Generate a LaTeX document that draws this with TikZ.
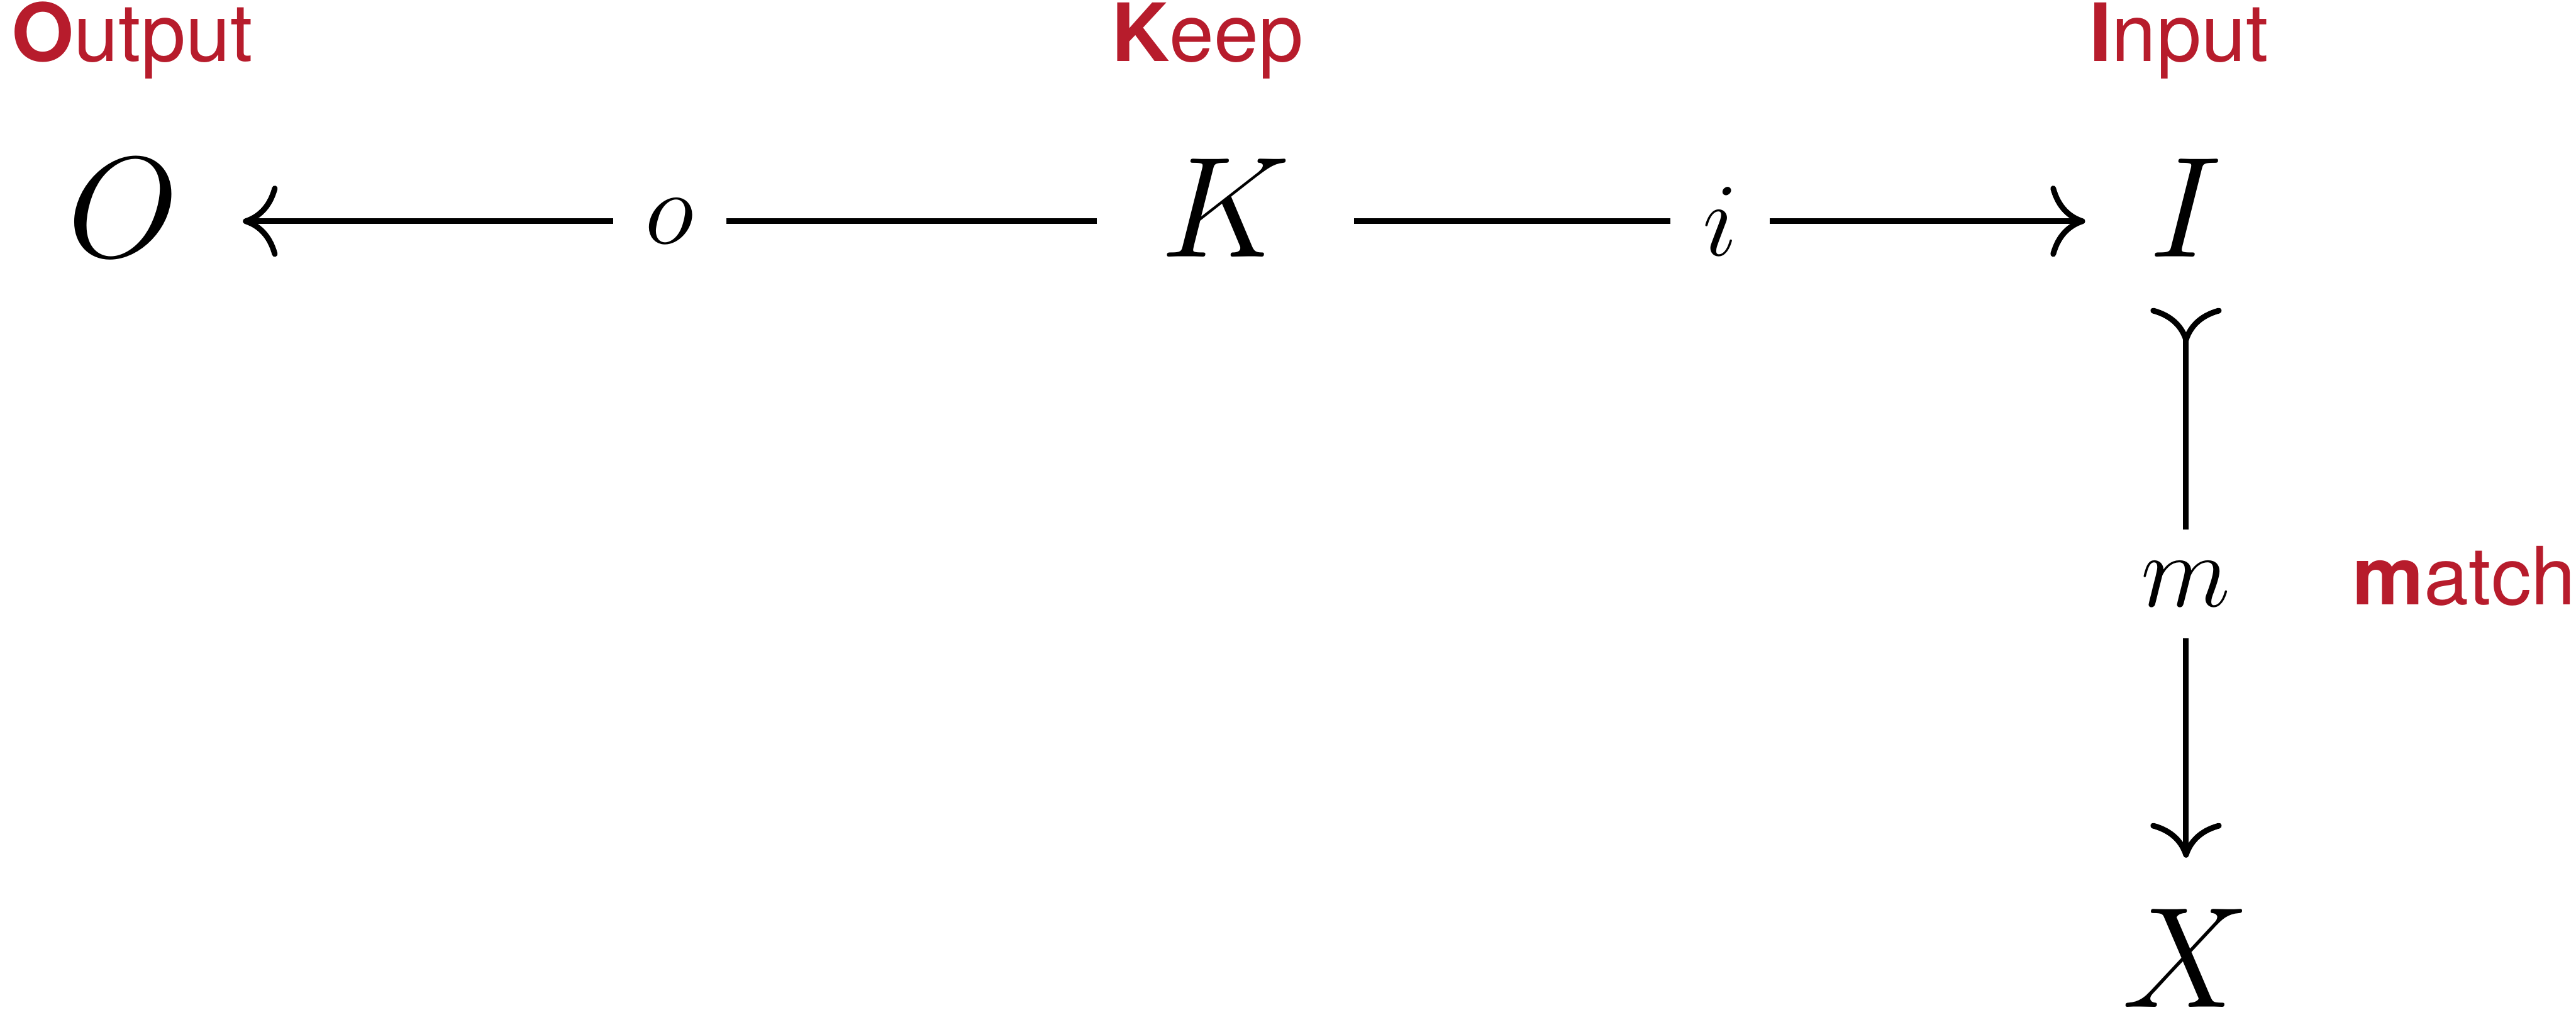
\RequirePackage{fix-cm}
\documentclass[tikz,border=0pt]{standalone}
\usepackage{amsmath}
\usepackage{fontspec}
\setsansfont{TeX Gyre Heros}
\usepackage{xcolor}
\usepackage{tikz}
\usetikzlibrary{arrows.meta}
\definecolor{cdred}{RGB}{183,28,44}

\begin{document}
\begin{tikzpicture}[
  obj/.style={font=\fontsize{33}{40}\selectfont, inner sep=0pt, outer sep=0pt,
    text height=22.5pt, text depth=6pt},
  lbl/.style={font=\fontsize{24}{28}\selectfont, fill=white, inner sep=0.26cm},
  word/.style={font=\sffamily\fontsize{18.5}{22}\selectfont, text=cdred,
    inner sep=0pt, anchor=base west},
  >={Computer Modern Rightarrow[length=8pt,width=16.4pt]},
  line width=1.3pt
  ]
  \useasboundingbox (0,0) rectangle (20.84,-8.21);
  % objects
  \node[obj] (O) at (0.995,-1.79) {$O$};
  \node[obj] (K) at (9.915,-1.79) {$K$};
  \node[obj] (I) at (17.685,-1.79) {$I$};
  \node[obj] (X) at (17.685,-7.86) {$X$};
  % names
  \node[word] (wO) at (0.07,-0.495) {{\bfseries O}utput};
  \node[word] (wK) at (8.97,-0.495) {{\bfseries K}eep};
  \node[word] (wI) at (16.88,-0.495) {{\bfseries I}nput};
  \node[word] (wm) at (19.01,-4.89) {{\bfseries m}atch};
  % morphisms
  \draw[->, shorten <=0.515cm, shorten >=0.52cm] (K) -- node[lbl] {$o$} (O);
  \draw[->, shorten <=0.515cm, shorten >=0.52cm] (K) -- node[lbl] {$i$} (I);
  \draw[>->, shorten <=0.2cm, shorten >=0.42cm] (I) -- node[lbl, pos=0.48] {$m$} (X);
\end{tikzpicture}
\end{document}
